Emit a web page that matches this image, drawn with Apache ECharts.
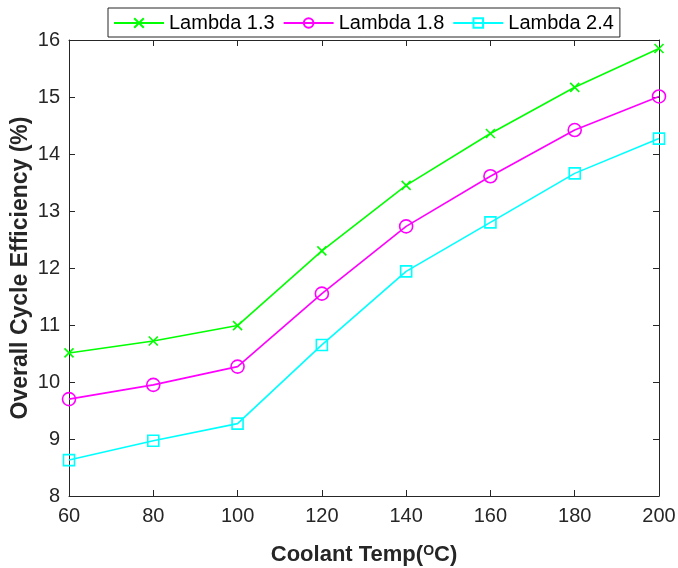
<!DOCTYPE html>
<html><head><meta charset="utf-8">
<script src="https://cdn.jsdelivr.net/npm/echarts@6/dist/echarts.min.js"></script>
<style>html,body{margin:0;padding:0;background:#fff}#c{width:678px;height:568px}</style>
</head><body><div id="c"></div>
<script>
const temps = [60, 80, 100, 120, 140, 160, 180, 200];
const lambda13 = [10.51, 10.72, 10.99, 12.30, 13.45, 14.36, 15.17, 15.85];
const lambda18 = [9.70, 9.95, 10.27, 11.55, 12.73, 13.61, 14.42, 15.01];
const lambda24 = [8.63, 8.97, 9.27, 10.65, 11.94, 12.80, 13.66, 14.27];
const seriesNames = ['Lambda 1.3', 'Lambda 1.8', 'Lambda 2.4'];
const colors = ['#00ff00', '#ff00ff', '#00ffff'];

const chart = echarts.init(document.getElementById('c'));
const axisLine = {show: true, lineStyle: {color: '#262626', width: 1}};
const pair = arr => temps.map((t, i) => [t, arr[i]]);
const crossPath = 'path://M0,0L10,10M10,0L0,10';
const titleFont = 'Liberation Sans';

chart.setOption({
  animation: false,
  grid: {left: 69, right: 19, top: 40, bottom: 72, containLabel: false, outerBoundsMode: 'none'},
  legend: {
    top: 8, left: 108,
    data: seriesNames,
    itemWidth: 50, itemHeight: 12, itemGap: 8,
    borderColor: '#262626', borderWidth: 1, borderRadius: 0,
    padding: [5, 6, 4, 5],
    backgroundColor: '#fff',
    textStyle: {fontFamily: 'Liberation Sans', fontSize: 20, color: '#000'}
  },
  xAxis: [{
    type: 'value', min: 60, max: 200, interval: 20,
    axisLine: axisLine,
    axisTick: {show: true, inside: true, length: 6, lineStyle: {color: '#262626'}},
    axisLabel: {fontFamily: 'Liberation Sans', fontSize: 20, color: '#262626', margin: 10},
    splitLine: {show: false},
    name: '{n|Coolant Temp(}{s|O}{n|C)}',
    nameLocation: 'middle', nameGap: 48, nameMoveOverlap: false,
    nameTextStyle: {rich: {
      n: {fontFamily: titleFont, fontWeight: 'bold', fontSize: 22, color: '#262626'},
      s: {fontFamily: titleFont, fontWeight: 'bold', fontSize: 14, color: '#262626', verticalAlign: 'top', padding: [0, 0, 8, 0]}
    }}
  }, {
    type: 'value', min: 60, max: 200, interval: 20, position: 'top',
    axisLine: axisLine,
    axisTick: {show: true, inside: true, length: 6, lineStyle: {color: '#262626'}},
    axisLabel: {show: false}, splitLine: {show: false}
  }],
  yAxis: [{
    type: 'value', min: 8, max: 16, interval: 1,
    axisLine: axisLine,
    axisTick: {show: true, inside: true, length: 6, lineStyle: {color: '#262626'}},
    axisLabel: {fontFamily: 'Liberation Sans', fontSize: 20, color: '#262626', margin: 9},
    splitLine: {show: false},
    name: 'Overall Cycle Efficiency (%)',
    nameLocation: 'middle', nameGap: 37, nameMoveOverlap: false,
    nameTextStyle: {fontFamily: titleFont, fontWeight: 'bold', fontSize: 23, color: '#262626'}
  }, {
    type: 'value', min: 8, max: 16, interval: 1, position: 'right',
    axisLine: axisLine,
    axisTick: {show: true, inside: true, length: 6, lineStyle: {color: '#262626'}},
    axisLabel: {show: false}, splitLine: {show: false}
  }],
  series: [
    {name: seriesNames[0], type: 'line', data: pair(lambda13), symbol: crossPath, symbolSize: 9,
     lineStyle: {color: colors[0], width: 1.6},
     itemStyle: {color: colors[0], borderColor: colors[0], borderWidth: 1.6}},
    {name: seriesNames[1], type: 'line', data: pair(lambda18), symbol: 'circle', symbolSize: 13,
     lineStyle: {color: colors[1], width: 1.6},
     itemStyle: {color: 'rgba(0,0,0,0)', borderColor: colors[1], borderWidth: 1.6}},
    {name: seriesNames[2], type: 'line', data: pair(lambda24), symbol: 'rect', symbolSize: 11,
     lineStyle: {color: colors[2], width: 1.6},
     itemStyle: {color: 'rgba(0,0,0,0)', borderColor: colors[2], borderWidth: 1.6}}
  ]
});
</script></body></html>
